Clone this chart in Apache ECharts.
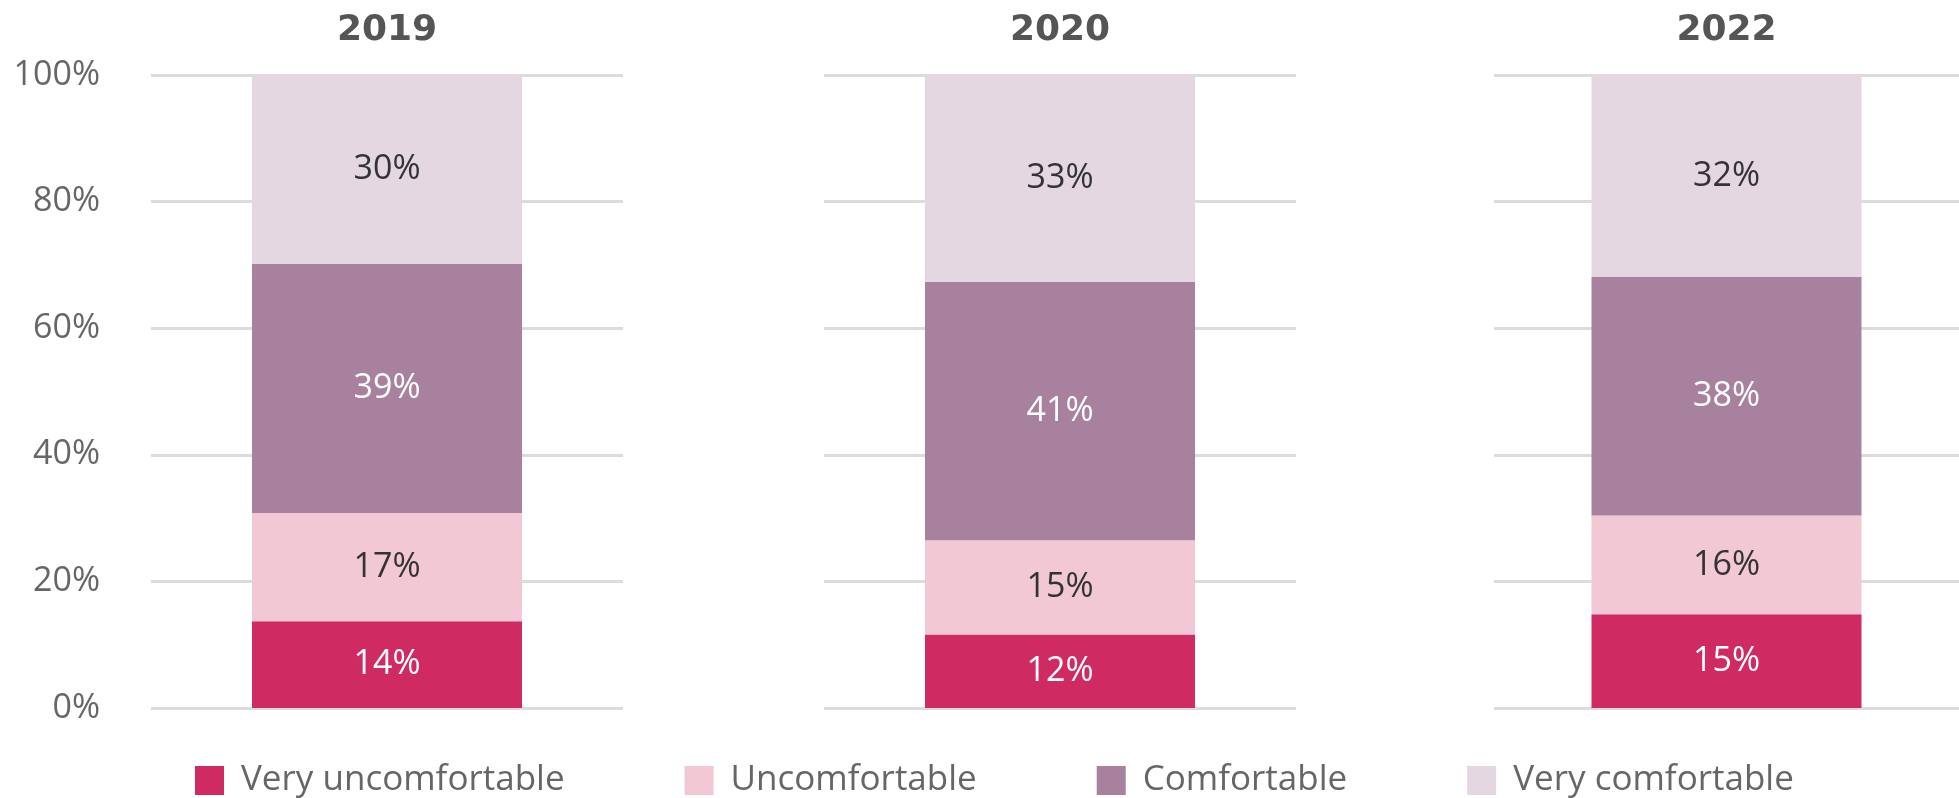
<!DOCTYPE html>
<html>
<head>
<meta charset="utf-8">
<title>Comfort by year</title>
<script src="https://cdn.jsdelivr.net/npm/echarts@6/dist/echarts.min.js"></script>
<style>
    html, body { margin: 0; padding: 0; background: #fff; }
    #chart { width: 1959px; height: 798px; }
</style>
</head>
<body>
<div id="chart"></div>
<script>
// data (bar heights, labels are rounded)
const years = ['2019', '2020', '2022'];
const seriesNames = ['Very uncomfortable', 'Uncomfortable', 'Comfortable', 'Very comfortable'];
const veryUncomfortable = [13.7, 11.6, 14.8];
const uncomfortable = [17.1, 14.9, 15.6];
const comfortable = [39.4, 40.8, 37.7];
const veryComfortable = [29.8, 32.7, 31.9];
const yTicks = [0, 20, 40, 60, 80, 100];

const colors = ['#cf2b62', '#f3c8d5', '#a8819f', '#e4d7e2'];
const labelColors = ['#ffffff', '#333333', '#ffffff', '#333333'];
const FONT = '"Open Sans", sans-serif';

const chart = echarts.init(document.getElementById('chart'));

const allValues = [veryUncomfortable, uncomfortable, comfortable, veryComfortable];
const gridLefts = [151, 824, 1494];

const grids = [];
const xAxes = [];
const yAxes = [];
const series = [];

for (let g = 0; g < years.length; g++) {
    grids.push({ left: gridLefts[g], width: 472, top: 75, bottom: 90 });
    xAxes.push({
        gridIndex: g,
        type: 'category',
        position: 'top',
        data: [years[g]],
        axisLine: { show: false },
        axisTick: { show: false },
        axisLabel: {
            margin: 26,
            color: '#555',
            fontSize: 36,
            fontWeight: 'bold',
            fontFamily: '"DejaVu Sans", sans-serif'
        }
    });
    yAxes.push({
        gridIndex: g,
        type: 'value',
        min: yTicks[0],
        max: yTicks[yTicks.length - 1],
        interval: 20,
        axisLine: { show: false },
        axisTick: { show: false },
        axisLabel: {
            show: g === 0,
            formatter: '{value}%',
            margin: 51,
            color: '#666',
            fontSize: 34,
            fontFamily: FONT
        },
        splitLine: { lineStyle: { color: '#dcdcdc', width: 3 } }
    });
    for (let s = 0; s < seriesNames.length; s++) {
        series.push({
            name: seriesNames[s],
            type: 'bar',
            stack: 'y' + g,
            xAxisIndex: g,
            yAxisIndex: g,
            barWidth: 270,
            data: [allValues[s][g]],
            itemStyle: { color: colors[s] },
            label: {
                show: true,
                position: 'inside',
                formatter: (p) => Math.round(p.value) + '%',
                color: labelColors[s],
                fontSize: 34,
                fontFamily: FONT
            }
        });
    }
}

chart.setOption({
    animation: false,
    grid: grids,
    xAxis: xAxes,
    yAxis: yAxes,
    legend: {
        data: seriesNames,
        left: 190,
        top: 758,
        icon: 'rect',
        itemWidth: 29,
        itemHeight: 29,
        itemGap: 120,
        textStyle: { color: '#666', fontSize: 35, fontFamily: FONT, padding: [0, 0, 0, 12] }
    },
    series: series
});
</script>
</body>
</html>
